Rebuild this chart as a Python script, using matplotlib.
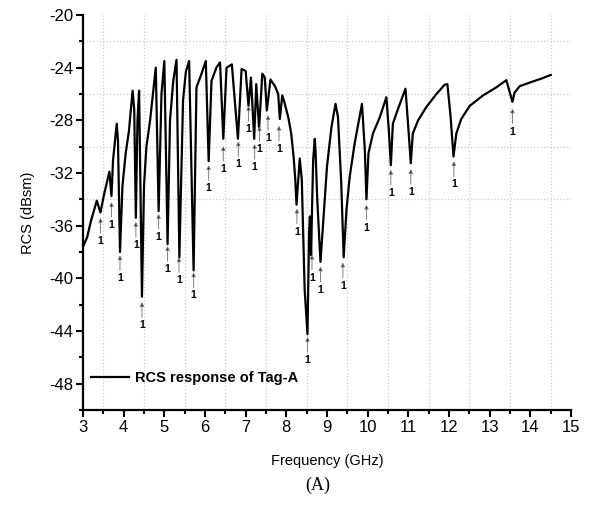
import matplotlib.pyplot as plt

# curve (GHz, dBsm)
freq = [3.00, 3.10, 3.20, 3.34, 3.43, 3.52, 3.65, 3.70, 3.74, 3.83, 3.86, 3.91,
        3.97, 4.05, 4.13, 4.22, 4.26, 4.30, 4.34, 4.38, 4.45, 4.50, 4.56, 4.65,
        4.72, 4.79, 4.86, 4.93, 5.00, 5.08, 5.14, 5.22, 5.30, 5.37, 5.46, 5.53, 5.61, 5.72,
        5.79, 5.91, 6.02, 6.09, 6.16, 6.28, 6.37, 6.45, 6.53, 6.66, 6.81, 6.90,
        7.00, 7.07, 7.13, 7.21, 7.26, 7.33, 7.41, 7.47, 7.52, 7.61, 7.72, 7.80,
        7.84, 7.90, 7.95, 8.05, 8.12, 8.18, 8.22, 8.25, 8.33, 8.38, 8.45, 8.52,
        8.56, 8.58, 8.60, 8.61, 8.63, 8.66, 8.70, 8.72, 8.76, 8.84,
        9.00, 9.11, 9.21, 9.27, 9.35, 9.41, 9.48, 9.56, 9.68, 9.80, 9.86, 9.93, 9.97,
        10.02, 10.13, 10.30, 10.46, 10.52, 10.57, 10.62, 10.75, 10.87, 10.93, 11.01, 11.06,
        11.11, 11.24, 11.44, 11.69, 11.89, 11.96, 12.04, 12.11, 12.18, 12.30, 12.51, 12.84,
        13.16, 13.41, 13.56, 13.61, 13.74, 14.06, 14.30, 14.50]
rcs = [-37.6, -36.9, -35.6, -34.1, -35.0, -33.6, -31.9, -33.75, -31.0, -28.25, -29.5, -38.0,
       -33.0, -30.5, -28.8, -25.75, -27.2, -35.4, -28.0, -25.75, -41.4, -33.0, -30.0, -28.0,
       -26.0, -24.0, -34.9, -26.0, -23.5, -37.4, -28.0, -25.0, -23.4, -38.4, -26.5, -24.3, -23.5, -39.4,
       -25.5, -24.5, -23.5, -31.1, -25.0, -24.0, -23.6, -29.4, -24.0, -23.75, -29.4, -24.1,
       -24.25, -26.9, -24.75, -29.4, -25.25, -28.6, -24.45, -24.75, -27.25, -24.9, -25.4, -26.0,
       -27.9, -26.1, -26.6, -27.8, -29.0, -30.8, -32.5, -34.4, -30.9, -32.5, -40.8, -44.25,
       -36.5, -35.3, -37.5, -38.25, -35.0, -31.0, -29.4, -30.5, -34.0, -38.75,
       -31.5, -28.5, -26.75, -27.75, -32.75, -38.4, -34.75, -32.25, -29.75, -27.75, -26.75, -30.25, -34.0,
       -30.5, -29.0, -27.75, -26.25, -28.75, -31.4, -28.25, -27.1, -26.1, -25.6, -29.0, -31.25,
       -29.0, -28.0, -27.0, -26.0, -25.3, -25.25, -27.75, -30.75, -29.0, -27.9, -26.9, -26.1,
       -25.5, -24.95, -26.6, -25.9, -25.4, -25.05, -24.8, -24.55]

# resonance markers "1": arrow tip positions
mark_f = [3.43, 3.70, 3.91, 4.30, 4.45, 4.86, 5.08, 5.36, 5.72, 6.09, 6.45, 6.82, 7.07,
          7.22, 7.34, 7.55, 7.82, 8.26, 8.52, 8.63, 8.84, 9.39, 9.97, 10.57, 11.06,
          12.12, 13.56]
mark_tip = [-35.4, -34.2, -38.25, -35.7, -41.8, -35.1, -37.55, -38.4, -39.55, -31.4, -29.95,
            -29.6, -26.9, -29.8, -28.45, -27.6, -28.4, -34.7, -44.45, -38.2, -39.1, -38.8,
            -34.4, -31.75, -31.7, -31.1, -27.1]

plt.rcParams['font.family'] = ['Liberation Sans', 'DejaVu Sans']
plt.rcParams['axes.unicode_minus'] = False

fig = plt.figure(figsize=(5.94, 5.09), dpi=100)
ax = fig.add_axes([0.1397, 0.1945, 0.8216, 0.776])

# dotted grid at the minor positions
for gx in [3.5 + i for i in range(12)]:
    ax.axvline(gx, color='#cccccc', linestyle=':', lw=0.9, zorder=0)
for gy in [-22, -26, -30, -34]:
    ax.axhline(gy, color='#cccccc', linestyle=':', lw=0.9, zorder=0)

ax.plot(freq, rcs, color='black', lw=1.6, label='RCS response of Tag-A')

for f, t in zip(mark_f, mark_tip):
    ax.annotate('', xy=(f, t), xytext=(f, t - 1.15),
                arrowprops=dict(arrowstyle='-|>', ec='0.5', fc='black', lw=0.7,
                                mutation_scale=6, shrinkA=0, shrinkB=0))
    ax.text(f, t - 1.75, '1', fontsize=7.5, fontweight='bold', ha='center', va='center')

ax.set_xlim(3, 15)
ax.set_ylim(-50, -20)
ax.set_xticks(range(3, 16))
ax.set_xticks([3.5 + i for i in range(12)], minor=True)
ax.set_yticks(range(-48, -19, 4))
ax.set_yticks(range(-50, -19, 2), minor=True)
ax.tick_params(which='major', direction='out', length=5, width=1.5, labelsize=12, pad=2)
ax.tick_params(which='minor', direction='out', length=3, width=1.5)
ax.spines['top'].set_visible(False)
ax.spines['right'].set_visible(False)
ax.spines['left'].set_linewidth(1.6)
ax.spines['bottom'].set_linewidth(1.6)

ax.set_ylabel('RCS (dBsm)', fontsize=10.5, labelpad=10)
ax.set_xlabel('Frequency (GHz)', fontsize=10.5, labelpad=14)
fig.text(0.535, 0.03, '(A)', fontsize=13, family='Liberation Serif', ha='center', va='bottom')

ax.legend(loc='lower left', bbox_to_anchor=(-0.01, 0.03), frameon=False, handlelength=2.6,
          handletextpad=0.4, prop={'weight': 'bold', 'size': 10.5})

plt.savefig('out.png', dpi=100)
